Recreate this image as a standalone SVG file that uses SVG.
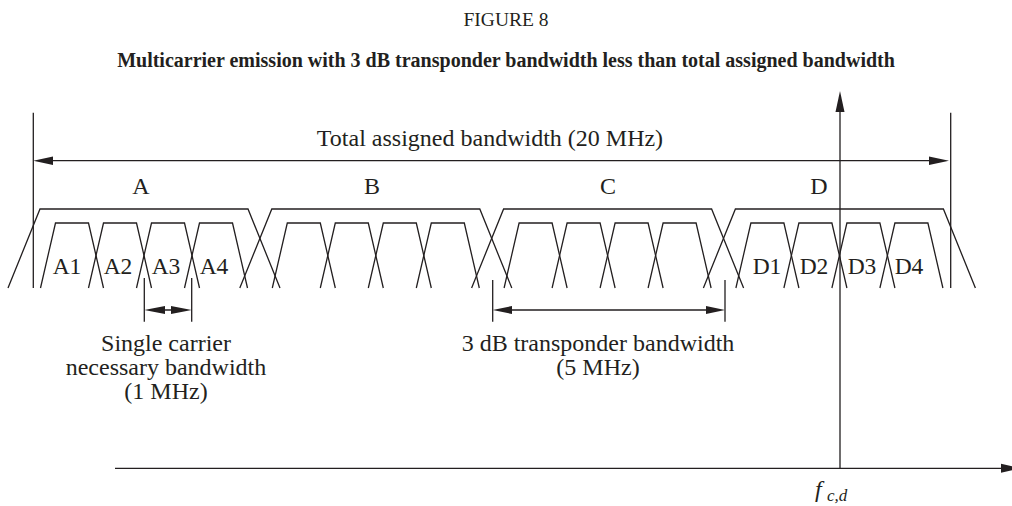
<svg xmlns="http://www.w3.org/2000/svg" width="1012" height="506" viewBox="0 0 1012 506">
<style>
.ln{fill:none;stroke:#231f20;stroke-width:1.3}
.ah{fill:#231f20;stroke:none}
.t{font-family:"Liberation Serif","Times New Roman",serif;font-size:24px;fill:#231f20}
.s{font-size:23.5px}
.tc{text-anchor:middle}
.h1{font-family:"Liberation Serif","Times New Roman",serif;font-size:19.5px;fill:#231f20;text-anchor:middle}
.h2{font-family:"Liberation Serif","Times New Roman",serif;font-size:20px;font-weight:bold;fill:#231f20;text-anchor:middle}
</style>
<defs>
<path id="carrier" d="M-31.5,288 L-16.5,223 L16.5,223 L31.5,288"/>
<path id="outer" d="M-136,288 L-104,209 L104,209 L136,288"/>
</defs>
<text class="h1" x="506" y="26">FIGURE 8</text>
<text class="h2" x="506" y="67">Multicarrier emission with 3 dB transponder bandwidth less than total assigned bandwidth</text>

<g id="groupA">
<use href="#outer" class="ln" x="144"/>
<use href="#carrier" class="ln" x="72"/>
<use href="#carrier" class="ln" x="120"/>
<use href="#carrier" class="ln" x="168"/>
<use href="#carrier" class="ln" x="216"/>
<text class="t tc" x="141" y="194">A</text>
<text class="t s tc" x="67" y="274">A1</text>
<text class="t s tc" x="118" y="274">A2</text>
<text class="t s tc" x="166" y="274">A3</text>
<text class="t s tc" x="214" y="274">A4</text>
</g>
<g id="groupB">
<use href="#outer" class="ln" x="375.8"/>
<use href="#carrier" class="ln" x="303.8"/>
<use href="#carrier" class="ln" x="351.8"/>
<use href="#carrier" class="ln" x="399.8"/>
<use href="#carrier" class="ln" x="447.8"/>
<text class="t tc" x="372" y="194">B</text>
</g>
<g id="groupC">
<use href="#outer" class="ln" x="607.6"/>
<use href="#carrier" class="ln" x="535.6"/>
<use href="#carrier" class="ln" x="583.6"/>
<use href="#carrier" class="ln" x="631.6"/>
<use href="#carrier" class="ln" x="679.6"/>
<text class="t tc" x="608" y="194">C</text>
</g>
<g id="groupD">
<use href="#outer" class="ln" x="839.4"/>
<use href="#carrier" class="ln" x="767.4"/>
<use href="#carrier" class="ln" x="815.4"/>
<use href="#carrier" class="ln" x="863.4"/>
<use href="#carrier" class="ln" x="911.4"/>
<text class="t tc" x="819" y="194">D</text>
<text class="t s tc" x="767" y="274">D1</text>
<text class="t s tc" x="814" y="274">D2</text>
<text class="t s tc" x="862" y="274">D3</text>
<text class="t s tc" x="909" y="274">D4</text>
</g>

<g id="connectors">
<path class="ln" d="M33.3,112.7 V288 M950.7,112.7 V288"/>
<path class="ln" d="M50,160.7 H932"/>
<path class="ah" d="M33.3,160.7 L53,156.5 L53,164.9 Z"/>
<path class="ah" d="M949,160.7 L929,156.5 L929,164.9 Z"/>
<path class="ln" d="M144.3,278 V321.7 M191.7,278 V321.7 M160,310 H176"/>
<path class="ah" d="M144.3,310 L165,306 L165,314 Z"/>
<path class="ah" d="M191.7,310 L171,306 L171,314 Z"/>
<path class="ln" d="M492.7,280 V321.7 M725,280 V321.7 M508,310 H710"/>
<path class="ah" d="M492.7,310 L512,306 L512,314 Z"/>
<path class="ah" d="M725,310 L706,306 L706,314 Z"/>
<path class="ln" d="M840,108 V468.3 M115,468.3 H1003"/>
<path class="ah" d="M840,91 L835.5,112 L844.5,112 Z"/>
<path class="ah" d="M1021,468.3 L1001,463.8 L1001,472.8 Z"/>
</g>

<g id="labels">
<text class="t tc" x="490" y="146">Total assigned bandwidth (20 MHz)</text>
<text class="t tc" x="166" y="351">Single carrier</text>
<text class="t tc" x="166" y="375">necessary bandwidth</text>
<text class="t tc" x="166" y="399">(1 MHz)</text>
<text class="t tc" x="598" y="351">3 dB transponder bandwidth</text>
<text class="t tc" x="598" y="375">(5 MHz)</text>
<text class="t" x="815" y="497" style="font-style:italic">f</text>
<text class="t" x="827" y="501" style="font-style:italic;font-size:17px">c,d</text>
</g>
</svg>
